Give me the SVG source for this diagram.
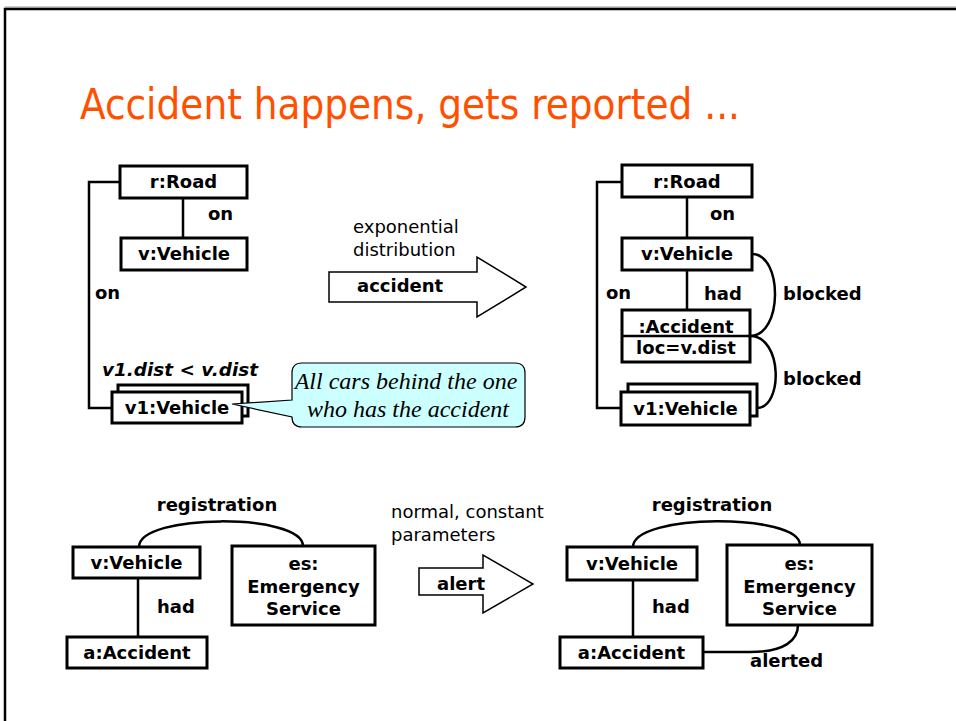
<svg xmlns="http://www.w3.org/2000/svg" width="956" height="721" viewBox="0 0 956 721">
<style>
.box{fill:#fff;stroke:#000;stroke-width:3}
.ln{fill:none;stroke:#000;stroke-width:2.5}
.arr{fill:#fff;stroke:#000;stroke-width:1.5}
.b{font-family:"DejaVu Sans",Verdana,sans-serif;font-weight:bold;font-size:18px;fill:#000}
.c{text-anchor:middle}
.n{font-family:"DejaVu Sans",Verdana,sans-serif;font-size:18px;fill:#000}
.t{font-family:"DejaVu Sans Condensed","DejaVu Sans",sans-serif;font-size:43px;fill:#FF5000}
.call{font-family:"Liberation Serif","Times New Roman",serif;font-style:italic;font-size:24px;fill:#000;text-anchor:middle}
</style>
<rect x="0" y="0" width="956" height="721" fill="#fff"/>
<line x1="5" y1="7" x2="956" y2="7" stroke="#999" stroke-width="1"/>
<rect x="5" y="9" width="970" height="730" fill="none" stroke="#000" stroke-width="2.5"/>
<text class="t" x="80" y="119" textLength="660" lengthAdjust="spacingAndGlyphs">Accident happens, gets reported ...</text>

<g id="connectors">
  <path class="ln" d="M183,198 V238"/>
  <path class="ln" d="M120,182 H89 V408 H112"/>
  <path class="ln" d="M687,197 V238"/>
  <path class="ln" d="M687,270 V310"/>
  <path class="ln" d="M622,182 H597 V408 H621"/>
  <path class="ln" d="M752,254 C783,254 783,336 750,336"/>
  <path class="ln" d="M750,336 C783,336 783,408 757,408"/>
  <path class="ln" d="M138,578 V637"/>
  <path class="ln" d="M139,547 C139,513 303,513 303,546"/>
  <path class="ln" d="M633,580 V637"/>
  <path class="ln" d="M633,547 C633,513 800,513 800,545"/>
  <path class="ln" d="M703,652 L750,652 C785,652 798,640 798,625"/>
</g>

<g id="labels">
  <text class="b" x="208" y="220">on</text>
  <text class="b" x="95" y="299">on</text>
  <text class="b" x="102" y="376" font-style="italic" textLength="156" lengthAdjust="spacingAndGlyphs">v1.dist &lt; v.dist</text>
  <text class="b" x="710" y="220">on</text>
  <text class="b" x="704" y="300">had</text>
  <text class="b" x="606" y="299">on</text>
  <text class="b" x="783" y="300">blocked</text>
  <text class="b" x="783" y="385">blocked</text>
  <text class="b" x="157" y="613">had</text>
  <text class="b c" x="217" y="511">registration</text>
  <text class="b" x="652" y="613">had</text>
  <text class="b c" x="712" y="511">registration</text>
  <text class="b" x="750" y="667">alerted</text>
</g>

<g id="tl-road"><rect class="box" x="120" y="166" width="127" height="32"/><text class="b c" x="183.5" y="188">r:Road</text></g>
<g id="tl-vehicle"><rect class="box" x="121" y="238" width="126" height="32"/><text class="b c" x="184" y="260">v:Vehicle</text></g>
<g id="tl-v1">
  <rect class="box" x="118" y="385" width="130" height="31"/>
  <rect class="box" x="112" y="392" width="130" height="31"/>
  <text class="b c" x="177" y="414">v1:Vehicle</text>
</g>
<g id="callout">
  <path d="M302,363 H515 Q525,363 525,373 V417 Q525,427 515,427 H302 Q292,427 292,417 L232,404 L292,400 V373 Q292,363 302,363 Z" fill="#CCFFFF" stroke="#000" stroke-width="1.2"/>
  <text class="call" x="406" y="389">All cars behind the one</text>
  <text class="call" x="408" y="417">who has the accident</text>
</g>
<g id="arrow-accident">
  <path class="arr" d="M329,272 H477 V257 L526,287 L477,317 V302 H329 Z"/>
  <text class="n" x="353" y="233">exponential</text>
  <text class="n" x="353" y="256">distribution</text>
  <text class="b" x="357" y="292">accident</text>
</g>

<g id="tr-road"><rect class="box" x="622" y="165" width="130" height="32"/><text class="b c" x="687" y="188">r:Road</text></g>
<g id="tr-vehicle"><rect class="box" x="622" y="238" width="130" height="32"/><text class="b c" x="687" y="260">v:Vehicle</text></g>
<g id="tr-accident">
  <rect class="box" x="622" y="310" width="128" height="52"/>
  <line x1="622" y1="336" x2="750" y2="336" stroke="#000" stroke-width="2.5"/>
  <text class="b c" x="686" y="333">:Accident</text>
  <text class="b c" x="686" y="354" font-size="15">loc=v.dist</text>
</g>
<g id="tr-v1">
  <rect class="box" x="628" y="384" width="129" height="32"/>
  <rect class="box" x="621" y="392" width="129" height="33"/>
  <text class="b c" x="685.5" y="415">v1:Vehicle</text>
</g>

<g id="bl-vehicle"><rect class="box" x="73" y="547" width="127" height="31"/><text class="b c" x="136.5" y="569">v:Vehicle</text></g>
<g id="bl-es"><rect class="box" x="232" y="546" width="143" height="79"/>
  <text class="b c" x="303.5" y="570">es:</text><text class="b c" x="303.5" y="593">Emergency</text><text class="b c" x="303.5" y="615">Service</text></g>
<g id="bl-accident"><rect class="box" x="67" y="637" width="140" height="31"/><text class="b c" x="137" y="659">a:Accident</text></g>

<g id="arrow-alert">
  <path class="arr" d="M419,568 H483 V555 L533,584 L483,613 V595 H419 Z"/>
  <text class="n" x="391" y="518">normal, constant</text>
  <text class="n" x="391" y="541">parameters</text>
  <text class="b" x="437" y="590">alert</text>
</g>

<g id="br-vehicle"><rect class="box" x="567" y="547" width="130" height="33"/><text class="b c" x="632" y="570">v:Vehicle</text></g>
<g id="br-es"><rect class="box" x="727" y="545" width="145" height="80"/>
  <text class="b c" x="799.5" y="570">es:</text><text class="b c" x="799.5" y="593">Emergency</text><text class="b c" x="799.5" y="615">Service</text></g>
<g id="br-accident"><rect class="box" x="560" y="637" width="143" height="31"/><text class="b c" x="631.5" y="659">a:Accident</text></g>
</svg>
